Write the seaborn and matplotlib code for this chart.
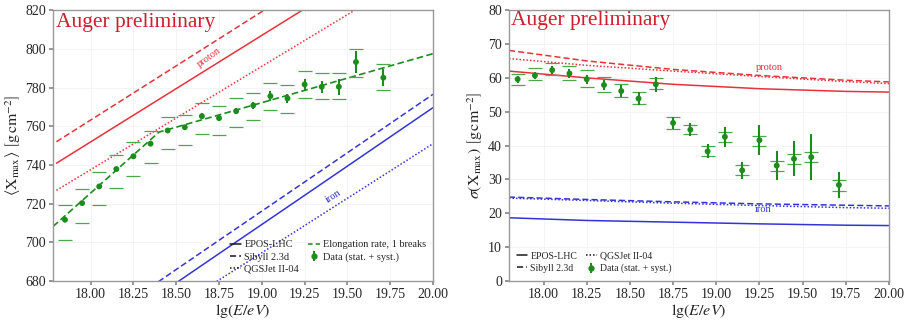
import numpy as np
import pandas as pd
import matplotlib
matplotlib.use("Agg")
import matplotlib.pyplot as plt
from matplotlib.lines import Line2D
import seaborn as sns

# energy bins (lg(E/eV))
lgE = [17.85, 17.95, 18.05, 18.15, 18.25, 18.35, 18.45, 18.55, 18.65, 18.75,
       18.85, 18.95, 19.05, 19.15, 19.25, 19.35, 19.45, 19.55, 19.71]

# <Xmax> data
xmax_mean = [711.7, 720.3, 728.9, 737.9, 744.5, 751.0, 757.8, 759.5, 765.2, 764.2,
             767.8, 770.8, 775.6, 774.4, 781.6, 780.4, 780.4, 793.2, 785.1]
xmax_stat = [1.0, 1.0, 1.0, 1.0, 1.2, 1.2, 1.3, 1.3, 1.5, 1.5,
             1.6, 1.8, 2.5, 2.2, 3.0, 3.0, 4.0, 5.5, 4.5]
xmax_sys_up = [7.4, 7.4, 7.5, 7.5, 7.2, 6.8, 7.1, 6.5, 6.6, 6.5,
               6.6, 6.5, 6.9, 6.7, 6.9, 7.3, 7.3, 6.6, 7.3]
xmax_sys_lo = [10.4, 10.3, 9.8, 9.9, 10.0, 10.0, 9.5, 9.3, 9.0, 8.7,
               8.1, 7.7, 7.4, 7.4, 7.2, 6.5, 6.5, 7.6, 6.6]

# sigma(Xmax) data
sig_mean = [59.6, 60.7, 62.3, 61.3, 59.6, 57.9, 56.1, 53.9, 58.1, 46.7,
            44.7, 38.3, 42.6, 32.7, 41.6, 34.1, 36.1, 36.6, 28.4]
sig_stat = [1.0, 1.0, 1.2, 1.2, 1.3, 1.5, 1.8, 1.8, 2.2, 1.8,
            2.0, 2.1, 3.0, 2.5, 4.5, 4.3, 5.2, 6.8, 3.8]
sig_sys_up = [1.5, 2.1, 2.0, 2.1, 2.7, 2.4, 2.2, 1.9, 1.8, 1.7,
              1.5, 1.5, 1.5, 1.5, 1.2, 1.3, 1.5, 1.5, 1.5]
sig_sys_lo = [1.7, 1.4, 1.6, 2.0, 2.2, 2.1, 1.8, 1.6, 1.5, 1.7,
              1.4, 1.5, 1.5, 1.5, 1.6, 1.5, 1.5, 1.5, 1.7]

# elongation rate fit with one break
fit_lgE = [17.78, 18.40, 20.0]
fit_xmax = [708.2, 757.0, 797.5]

# model predictions
model_lgE = [17.8, 18.25, 18.75, 19.25, 19.75, 20.0]
models = ["EPOS-LHC", "Sibyll 2.3d", "QGSJet II-04"]
xmax_p = {"EPOS-LHC": [740.9, 765.7, 793.2, 820.7, 848.2, 861.9],
          "Sibyll 2.3d": [752.0, 777.2, 805.2, 833.2, 861.2, 875.2],
          "QGSJet II-04": [726.9, 750.9, 777.6, 804.3, 831.0, 844.4]}
xmax_fe = {"EPOS-LHC": [636.9, 664.0, 694.2, 724.3, 754.5, 769.6],
           "Sibyll 2.3d": [643.8, 670.9, 701.1, 731.2, 761.4, 776.5],
           "QGSJet II-04": [627.1, 652.4, 680.6, 708.7, 736.9, 751.0]}
sig_p = {"EPOS-LHC": [62.0, 60.0, 58.1, 56.8, 56.0, 55.8],
         "Sibyll 2.3d": [68.1, 65.0, 62.5, 60.7, 59.3, 58.8],
         "QGSJet II-04": [65.7, 63.7, 62.0, 60.4, 58.9, 58.3]}
sig_fe = {"EPOS-LHC": [18.7, 17.9, 17.4, 16.9, 16.5, 16.4],
          "Sibyll 2.3d": [24.8, 24.1, 23.4, 22.8, 22.4, 22.2],
          "QGSJet II-04": [24.5, 23.8, 23.0, 22.3, 21.7, 21.5]}

xtick_vals = [18.0, 18.25, 18.5, 18.75, 19.0, 19.25, 19.5, 19.75, 20.0]
xtick_labels = ["18.00", "18.25", "18.50", "18.75", "19.00", "19.25", "19.50", "19.75", "20.00"]

sns.set_theme(style="whitegrid", rc={"grid.color": "#f3f3f3", "grid.linewidth": 0.6,
                                     "axes.edgecolor": "#999999", "axes.linewidth": 1.0})
plt.rcParams["font.family"] = ["Liberation Serif", "DejaVu Serif"]
plt.rcParams["mathtext.fontset"] = "stix"

RED = "#e8323a"
BLUE = "#3434d6"
GREEN = "#1c8c1c"
SYS_GREEN = "#4aa84a"
TXT_RED = "#cc1f2e"
dashes = {"EPOS-LHC": "", "Sibyll 2.3d": (4, 2), "QGSJet II-04": (1, 1.3)}


def model_frame(p, fe):
    rows = []
    for m in models:
        for x, a, b in zip(model_lgE, p[m], fe[m]):
            rows.append({"lgE": x, "model": m, "proton": a, "iron": b})
    return pd.DataFrame(rows)


def draw_data(ax, y, stat, sys_lo, sys_up):
    ax.errorbar(lgE, y, yerr=[sys_lo, sys_up], fmt="none", elinewidth=0,
                capsize=5, capthick=0.9, ecolor=SYS_GREEN)
    cont = ax.errorbar(lgE, y, yerr=stat, fmt="none", elinewidth=1.5, ecolor=GREEN)
    sns.scatterplot(x=lgE, y=y, color=GREEN, s=18, edgecolor="none", ax=ax, zorder=5)
    return cont


fig = plt.figure(figsize=(9.06, 3.22), dpi=100)
ax1 = fig.add_axes([0.0585, 0.127, 0.4194, 0.8416])
ax2 = fig.add_axes([0.5618, 0.127, 0.4194, 0.8416])

# ---- left: <Xmax>
dfm = model_frame(xmax_p, xmax_fe)
sns.lineplot(data=dfm, x="lgE", y="proton", style="model", dashes=dashes, color=RED,
             lw=1.1, legend=False, ax=ax1)
sns.lineplot(data=dfm, x="lgE", y="iron", style="model", dashes=dashes, color=BLUE,
             lw=1.1, legend=False, ax=ax1)
sns.lineplot(x=fit_lgE, y=fit_xmax, color=GREEN, lw=1.2, ax=ax1)
ax1.lines[-1].set_dashes((4, 2))
stat1 = draw_data(ax1, xmax_mean, xmax_stat, xmax_sys_lo, xmax_sys_up)

ax1.set_xlim(17.78, 20.0)
ax1.set_ylim(680, 820)
ax1.set_yticks(np.arange(680, 821, 20))
ax1.set_xticks(xtick_vals)
ax1.set_xticklabels(xtick_labels)
ax1.set_xlabel(r"$\lg(E/eV)$", fontsize=11.5, labelpad=1)
ax1.set_ylabel(r"$\langle \mathrm{X}_\mathrm{max}\rangle\ \left[\mathrm{g\,cm}^{-2}\right]$",
               fontsize=11.5, labelpad=2)
ax1.text(17.8, 818.5, "Auger preliminary", color=TXT_RED, fontsize=15.5, va="top", ha="left")
ax1.text(18.69, 795.5, "proton", color=RED, fontsize=7.5, rotation=36, ha="center", va="center")
ax1.text(19.42, 723.7, "iron", color=BLUE, fontsize=7.5, rotation=33, ha="center", va="center")

data_handle1 = (Line2D([], [], color=GREEN, marker="o", ms=3.5, ls="none"), stat1)
h1 = [Line2D([], [], color="k", lw=1.1, ls="-"),
      Line2D([], [], color="k", lw=1.1, dashes=(4, 2)),
      Line2D([], [], color="k", lw=1.1, dashes=(1, 1.3)),
      Line2D([], [], color=GREEN, lw=1.1, dashes=(3, 2)),
      data_handle1]
ax1.legend(h1, models + ["Elongation rate, 1 breaks", "Data (stat. + syst.)"], ncol=2,
           loc="lower right", bbox_to_anchor=(1.0, 0.0), frameon=False, fontsize=7.4,
           handlelength=1.1, handletextpad=0.3, columnspacing=0.9, labelspacing=0.3,
           borderaxespad=0.3)

# ---- right: sigma(Xmax)
dfs = model_frame(sig_p, sig_fe)
sns.lineplot(data=dfs, x="lgE", y="proton", style="model", dashes=dashes, color=RED,
             lw=1.1, legend=False, ax=ax2)
sns.lineplot(data=dfs, x="lgE", y="iron", style="model", dashes=dashes, color=BLUE,
             lw=1.1, legend=False, ax=ax2)
stat2 = draw_data(ax2, sig_mean, sig_stat, sig_sys_lo, sig_sys_up)

ax2.set_xlim(17.8, 20.0)
ax2.set_ylim(0, 80)
ax2.set_yticks(np.arange(0, 81, 10))
ax2.set_xticks(xtick_vals)
ax2.set_xticklabels(xtick_labels)
ax2.set_xlabel(r"$\lg(E/eV)$", fontsize=11.5, labelpad=1)
ax2.set_ylabel(r"$\sigma\left(\mathrm{X}_\mathrm{max}\right)\ \left[\mathrm{g\,cm}^{-2}\right]$",
               fontsize=11.5, labelpad=2)
ax2.text(17.81, 79.6, "Auger preliminary", color=TXT_RED, fontsize=15.5, va="top", ha="left")
ax2.text(19.31, 63.0, "proton", color=RED, fontsize=7.5, ha="center", va="center")
ax2.text(19.27, 21.0, "iron", color=BLUE, fontsize=7.5, ha="center", va="center")

data_handle2 = (Line2D([], [], color=GREEN, marker="o", ms=3.5, ls="none"), stat2)
h2 = [Line2D([], [], color="k", lw=1.1, ls="-"),
      Line2D([], [], color="k", lw=1.1, dashes=(4, 2)),
      Line2D([], [], color="k", lw=1.1, dashes=(1, 1.3)),
      data_handle2]
ax2.legend(h2, models + ["Data (stat. + syst.)"], ncol=2, loc="lower left",
           frameon=False, fontsize=7.0, handlelength=1.1, handletextpad=0.3,
           columnspacing=0.9, labelspacing=0.3, borderaxespad=0.4)

for ax in (ax1, ax2):
    ax.tick_params(axis="both", labelsize=10, length=3, color="#888888", pad=2,
                   left=True, bottom=True)

fig.savefig("out.png", dpi=100)
